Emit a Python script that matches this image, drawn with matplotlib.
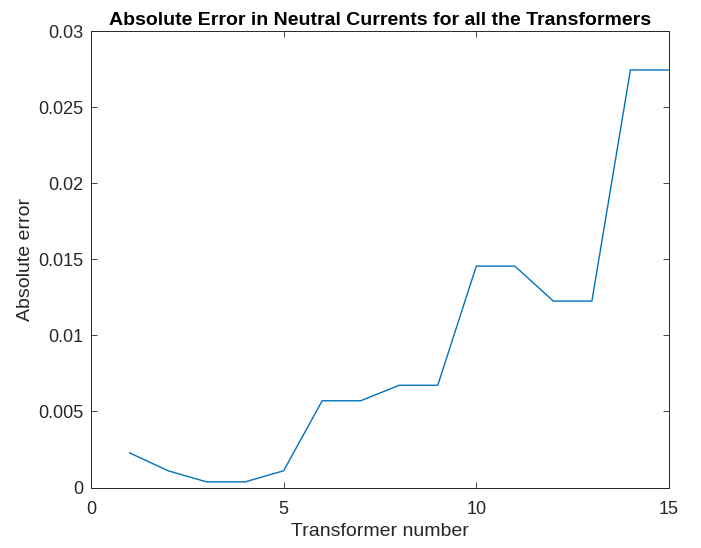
import matplotlib
matplotlib.use("Agg")
import matplotlib.pyplot as plt

# Transformer index and absolute error in neutral current
transformer = [1, 2, 3, 4, 5, 6, 7, 8, 9, 10, 11, 12, 13, 14, 15]
abs_error = [0.00228, 0.0011, 0.00037, 0.00037, 0.0011, 0.0057, 0.0057,
             0.00672, 0.00672, 0.01455, 0.01455, 0.01225, 0.01225, 0.02744, 0.02744]

x_ticks = [0, 5, 10, 15]
y_ticks = [0, 0.005, 0.01, 0.015, 0.02, 0.025, 0.03]
y_tick_labels = ["0", "0.005", "0.01", "0.015", "0.02", "0.025", "0.03"]

plt.rcParams["font.family"] = ["Liberation Sans", "DejaVu Sans"]

fig = plt.figure(figsize=(7.01, 5.48), dpi=100)
ax = fig.add_axes([0.1298, 0.1104, 0.8245, 0.8330])

ax.plot(transformer, abs_error, color="#0072BD", linewidth=1.0)

ax.set_xlim(0, 15)
ax.set_ylim(0, 0.03)
ax.set_xticks(x_ticks)
ax.set_yticks(y_ticks)
ax.set_yticklabels(y_tick_labels)

ax.tick_params(direction="in", length=4, width=0.6, top=True, right=True,
               labelsize=13, colors="#262626")
ax.tick_params(axis="x", pad=10)
ax.tick_params(axis="y", pad=5.5)
for s in ax.spines.values():
    s.set_linewidth(0.7)
    s.set_color("#262626")

ax.set_xlabel("Transformer number", fontsize=14, color="#262626", labelpad=3)
ax.set_ylabel("Absolute error", fontsize=14, color="#262626", labelpad=3)
ax.set_title("Absolute Error in Neutral Currents for all the Transformers",
             fontsize=14, fontweight="bold", color="black", pad=4.5)

fig.savefig("out.png", dpi=100)
